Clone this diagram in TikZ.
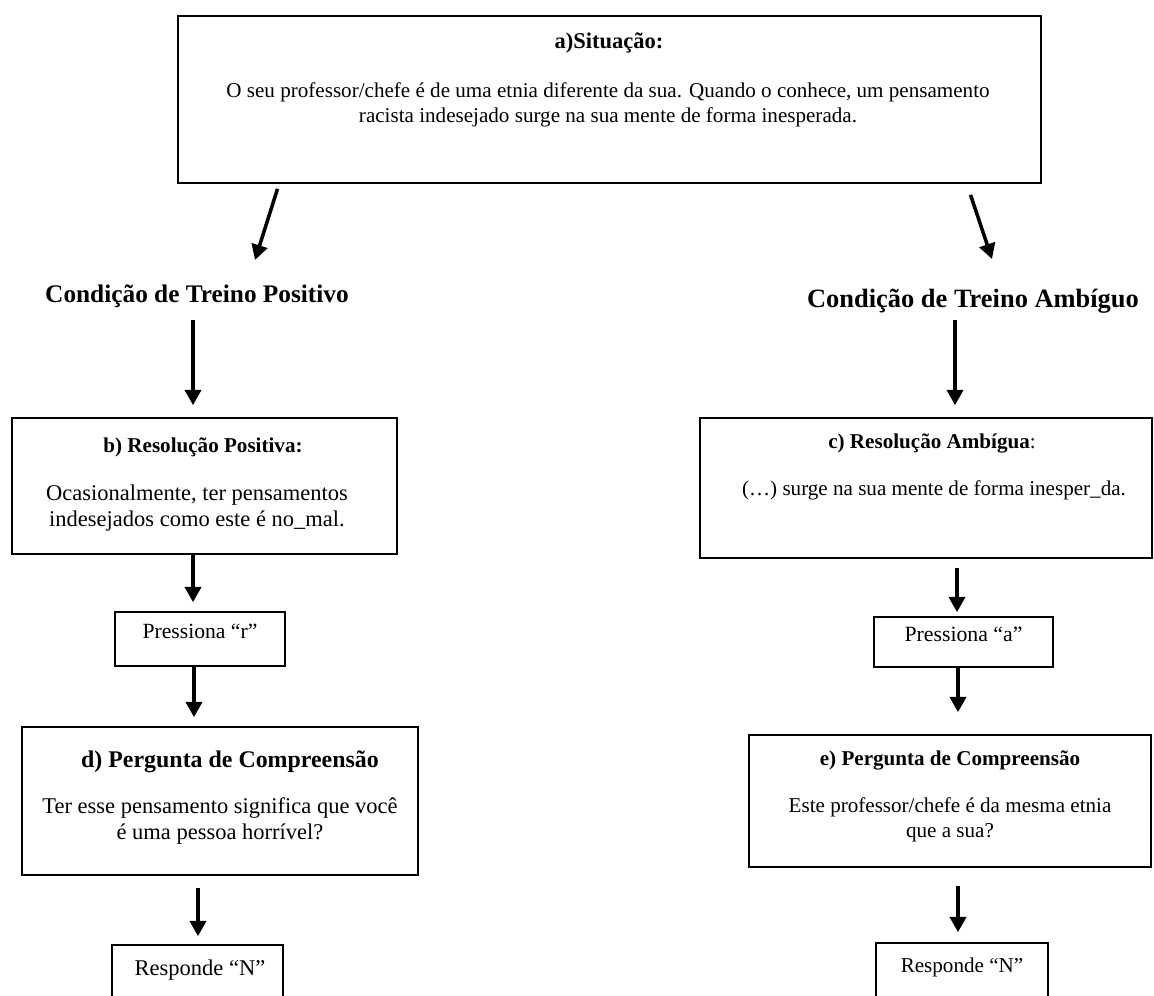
\documentclass[tikz,border=0pt]{standalone}
\usepackage{fontspec}
\setmainfont{Liberation Serif}
\usepackage{tikz}
\usetikzlibrary{
	arrows.meta,
	calc,
	positioning,
	fit
}

\begin{document}
\begin{tikzpicture}[x=0.025cm, y=-0.025cm,
		caixa/.style={draw, line width=1.2pt, inner sep=0pt},
		titulo/.style={font=\fontsize{#1}{18}\selectfont\bfseries, inner sep=0pt},
		titulo/.default=15,
		texto/.style={font=\fontsize{#1}{18}\selectfont, align=center, inner sep=0pt},
		texto/.default=15,
		cabec/.style={font=\fontsize{#1}{20}\selectfont\bfseries, inner sep=0pt, anchor=base},
		seta/.style={line width=2.5pt, -{Triangle[length=0.38cm, width=0.4cm]}}]
	\useasboundingbox (0,0) rectangle (1154,995);
	\clip (0,0) rectangle (1154,995);
	% colunas das setas
	\coordinate (xL) at (193,0);
	\coordinate (xR) at (956,0);
	% situação
	\node[caixa, fit={(178,16) (1041,183)}] (sit) {};
	\node[titulo=16] (sitT) at (609,43) {a)Situação:};
	\node[texto] (sitX) at (608,105) {O seu professor/chefe é de uma etnia diferente da sua. Quando o conhece, um pensamento\\racista indesejado surge na sua mente de forma inesperada.};
	% condições
	\node[cabec=18] (posit) at (197,302) {Condição de Treino Positivo};
	\node[cabec=18.8] (ambig) at (973,307) {Condição de Treino Ambíguo};
	\draw[seta] ($(sit.south)+(-332,5)$) -- ($(posit.base)+(58,-42)$);
	\draw[seta] ($(sit.south)+(361,11)$) -- ($(ambig.base)+(19,-48)$);
	% ramo positivo
	\node[caixa, fit={(12,418) (397,554)}] (resP) {};
	\node[titulo] (resPT) at (203,447) {b) Resolução Positiva:};
	\node[texto=16] (resPX) at (197,508) {Ocasionalmente, ter pensamentos\\indesejados como este é no\_mal.};
	\node[caixa, fit={(115,612) (285,666)}, font=\fontsize{15.4}{18}\selectfont] (teclaR) {Pressiona “r”};
	\node[caixa, fit={(22,727) (418,875)}] (perD) {};
	\node[titulo=17] (perDT) at (230,762) {d) Pergunta de Compreensão};
	\node[texto=16] (perDX) at (220,821) {Ter esse pensamento significa que você\\é uma pessoa horrível?};
	\node[caixa, fit={(112,945) (283,1010)}] (respL) {};
	\node[texto=16] (respLX) at (200,970) {Responde “N”};
	\draw[seta] ($(posit.base -| xL)+(0,18)$) -- ($(resP.north -| xL)+(0,-12)$);
	\draw[seta] (resP.south -| xL) -- ($(teclaR.north -| xL)+(0,-9)$);
	\draw[seta] ($(teclaR.south -| xL)+(1,0)$) -- ($(perD.north -| xL)+(1,-9)$);
	\draw[seta] ($(perD.south -| xL)+(5,12)$) -- ($(respL.north -| xL)+(5,-8)$);
	% ramo ambíguo
	\node[caixa, fit={(700,418) (1152,558)}] (resA) {};
	\node[titulo] (resAT) at (932,443) {c) Resolução Ambígua\textmd{:}};
	\node[texto] (resAX) at (934,490) {(…) surge na sua mente de forma inesper\_da.};
	\node[caixa, fit={(874,617) (1053,667)}, font=\fontsize{15.5}{18}\selectfont] (teclaA) {Pressiona “a”};
	\node[caixa, fit={(749,735) (1151,867)}] (perE) {};
	\node[titulo] (perET) at (950,760) {e) Pergunta de Compreensão};
	\node[texto] (perEX) at (950,820) {Este professor/chefe é da mesma etnia\\que a sua?};
	\node[caixa, fit={(876,943) (1048,1010)}] (respR) {};
	\node[texto] (respRX) at (962,967) {Responde “N”};
	\draw[seta] ($(ambig.base -| xR)+(-1,13)$) -- ($(resA.north -| xR)+(-1,-12)$);
	\draw[seta] ($(resA.south -| xR)+(1,9)$) -- ($(teclaA.north -| xR)+(1,-4)$);
	\draw[seta] ($(teclaA.south -| xR)+(2,0)$) -- ($(perE.north -| xR)+(2,-22)$);
	\draw[seta] ($(perE.south -| xR)+(2,18)$) -- ($(respR.north -| xR)+(2,-10)$);
\end{tikzpicture}
\end{document}
